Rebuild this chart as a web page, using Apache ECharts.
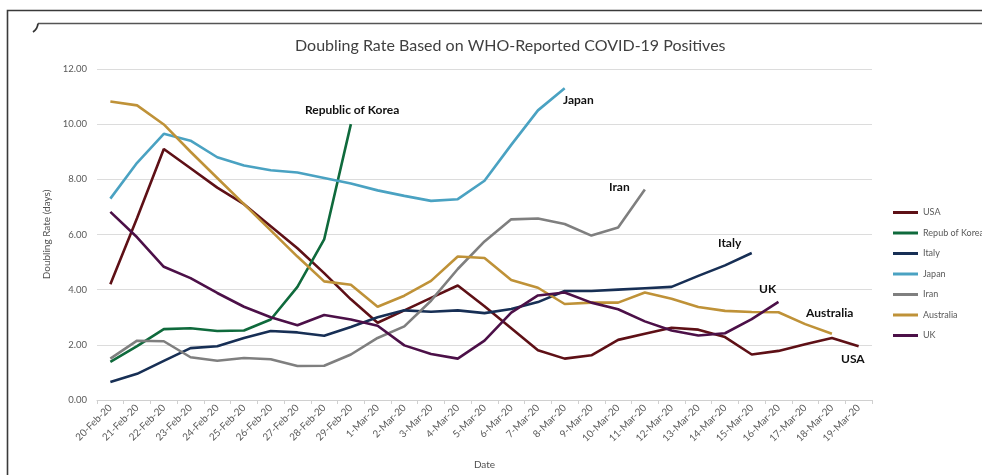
<!DOCTYPE html>
<html>
<head>
<meta charset="utf-8">
<script src="https://cdn.jsdelivr.net/npm/echarts@6/dist/echarts.min.js"></script>
<style>
html,body{margin:0;padding:0;background:#fff;}
#chart{width:982px;height:475px;}
</style>
</head>
<body>
<div id="chart"></div>
<script>
const dates = ['20-Feb-20','21-Feb-20','22-Feb-20','23-Feb-20','24-Feb-20','25-Feb-20','26-Feb-20','27-Feb-20','28-Feb-20','29-Feb-20',
  '1-Mar-20','2-Mar-20','3-Mar-20','4-Mar-20','5-Mar-20','6-Mar-20','7-Mar-20','8-Mar-20','9-Mar-20','10-Mar-20',
  '11-Mar-20','12-Mar-20','13-Mar-20','14-Mar-20','15-Mar-20','16-Mar-20','17-Mar-20','18-Mar-20','19-Mar-20'];
const yTicks = [0, 2, 4, 6, 8, 10, 12];

const usa = [4.2, 6.6, 9.1, 8.4, 7.7, 7.1, 6.3, 5.5, 4.6, 3.65, 2.8, 3.25, 3.7, 4.15, 3.4, 2.6, 1.8, 1.5, 1.62, 2.18, 2.4, 2.62, 2.55, 2.28, 1.65, 1.78, 2.02, 2.25, 1.95];
const korea = [1.38, 1.95, 2.57, 2.6, 2.5, 2.52, 2.92, 4.1, 5.82, 10.0];
const italy = [0.65, 0.95, 1.42, 1.88, 1.95, 2.25, 2.5, 2.45, 2.33, 2.65, 3.0, 3.25, 3.2, 3.25, 3.15, 3.3, 3.55, 3.95, 3.95, 4.0, 4.05, 4.1, 4.5, 4.88, 5.33];
const japan = [7.3, 8.6, 9.65, 9.4, 8.8, 8.5, 8.33, 8.25, 8.05, 7.85, 7.6, 7.4, 7.22, 7.28, 7.95, 9.25, 10.5, 11.3];
const iran = [1.5, 2.15, 2.13, 1.55, 1.42, 1.52, 1.48, 1.23, 1.24, 1.65, 2.25, 2.67, 3.6, 4.75, 5.75, 6.55, 6.58, 6.38, 5.96, 6.25, 7.63];
const australia = [10.82, 10.68, 9.99, 9.0, 8.05, 7.1, 6.15, 5.2, 4.3, 4.18, 3.38, 3.78, 4.32, 5.2, 5.15, 4.35, 4.07, 3.48, 3.53, 3.53, 3.9, 3.67, 3.37, 3.23, 3.19, 3.18, 2.75, 2.4];
const uk = [6.82, 5.9, 4.83, 4.42, 3.88, 3.38, 3.0, 2.71, 3.08, 2.92, 2.69, 1.98, 1.67, 1.5, 2.15, 3.17, 3.79, 3.9, 3.53, 3.29, 2.85, 2.52, 2.34, 2.42, 2.93, 3.56];

const seriesNames = ['USA', 'Repub of Korea', 'Italy', 'Japan', 'Iran', 'Australia', 'UK'];
const seriesData = [usa, korea, italy, japan, iran, australia, uk];
const colors = ['#5e1016', '#0f6a3c', '#172f55', '#4aa2c2', '#7f7f7f', '#bf9238', '#4c1048'];

const annotations = [
  {text: 'Republic of Korea', x: 305, y: 112},
  {text: 'Japan', x: 563, y: 102},
  {text: 'Iran', x: 609, y: 189},
  {text: 'Italy', x: 718, y: 245},
  {text: 'UK', x: 759, y: 291},
  {text: 'Australia', x: 806, y: 315},
  {text: 'USA', x: 841, y: 361}
];

const FONT = 'Lato, "Open Sans", sans-serif';
const chart = echarts.init(document.getElementById('chart'), null, {renderer: 'canvas'});

const graphics = [
  {type: 'polyline', shape: {points: [[7.5, 475], [7.5, 10.5], [982, 10.5]]}, style: {stroke: '#3a3a3a', lineWidth: 1.6, fill: null}},
  {type: 'polyline', shape: {points: [[38, 23.5], [982, 23.5]]}, style: {stroke: '#555', lineWidth: 1.4, fill: null}},
  {type: 'bezierCurve', shape: {x1: 38, y1: 23.5, x2: 33, y2: 32, cpx1: 37.5, cpy1: 29}, style: {stroke: '#333', lineWidth: 1.8, fill: null}}
];
annotations.forEach(a => graphics.push({
  type: 'text', left: a.x, top: a.y - 8, z: 100,
  style: {text: a.text, font: 'bold 12px ' + FONT, fill: '#111'}
}));

chart.setOption({
  animation: false,
  backgroundColor: '#fff',
  color: colors,
  title: {
    text: 'Doubling Rate Based on WHO-Reported COVID-19 Positives',
    left: 290, top: 33,
    textStyle: {fontFamily: FONT, fontSize: 16, fontWeight: 'normal', color: '#404040'}
  },
  legend: {
    orient: 'vertical', left: 888, top: 203,
    icon: 'rect',
    itemWidth: 25, itemHeight: 3, itemGap: 11.5,
    textStyle: {fontFamily: FONT, fontSize: 9, color: '#595959'},
    data: seriesNames
  },
  grid: {left: 97, right: 110, top: 69, bottom: 72, containLabel: false},
  xAxis: {
    type: 'category', data: dates, boundaryGap: true,
    name: 'Date', nameLocation: 'middle', nameGap: 60,
    nameTextStyle: {fontFamily: FONT, fontSize: 10, color: '#505050'},
    axisLine: {lineStyle: {color: '#d0d0d0', width: 1}},
    axisTick: {show: true, alignWithLabel: false, length: 4, lineStyle: {color: '#d0d0d0'}},
    axisLabel: {rotate: 45, interval: 0, fontFamily: FONT, fontSize: 10, color: '#595959', margin: 6}
  },
  yAxis: {
    type: 'value', min: yTicks[0], max: yTicks[yTicks.length - 1], interval: 2,
    name: 'Doubling Rate (days)', nameLocation: 'middle', nameGap: 43, nameRotate: 90,
    nameTextStyle: {fontFamily: FONT, fontSize: 10, color: '#505050'},
    axisLine: {show: false}, axisTick: {show: false},
    splitLine: {lineStyle: {color: '#dcdcdc', width: 1.2}},
    axisLabel: {fontFamily: FONT, fontSize: 9.5, color: '#595959', margin: 10,
      formatter: v => v.toFixed(2)}
  },
  series: seriesNames.map((n, i) => ({
    name: n, type: 'line', data: seriesData[i],
    symbol: 'none', smooth: false,
    lineStyle: {width: 2.6, color: colors[i]},
    itemStyle: {color: colors[i]}
  })),
  graphic: graphics
});
</script>
</body>
</html>
